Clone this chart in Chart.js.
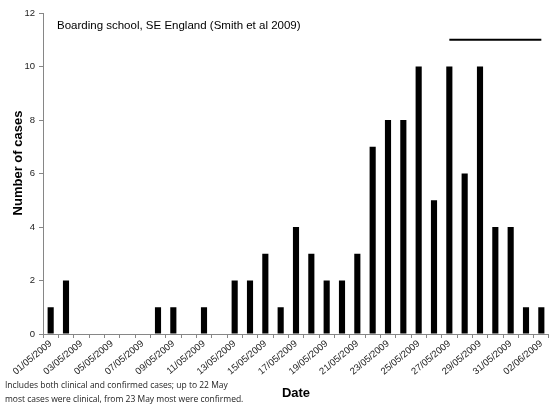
<!DOCTYPE html>
<html>
<head>
<meta charset="utf-8">
<script src="https://cdn.jsdelivr.net/npm/chart.js@4/dist/chart.umd.min.js"></script>
<style>
  html, body { margin: 0; padding: 0; background: #fff; }
  #wrap { width: 549px; height: 408px; position: relative; }
</style>
</head>
<body>
<div id="wrap"><canvas id="myChart"></canvas></div>
<script>
var dates = ['01/05/2009', '02/05/2009', '03/05/2009', '04/05/2009', '05/05/2009', '06/05/2009',
    '07/05/2009', '08/05/2009', '09/05/2009', '10/05/2009', '11/05/2009', '12/05/2009',
    '13/05/2009', '14/05/2009', '15/05/2009', '16/05/2009', '17/05/2009', '18/05/2009',
    '19/05/2009', '20/05/2009', '21/05/2009', '22/05/2009', '23/05/2009', '24/05/2009',
    '25/05/2009', '26/05/2009', '27/05/2009', '28/05/2009', '29/05/2009', '30/05/2009',
    '31/05/2009', '01/06/2009', '02/06/2009'];
var cases = [1, 2, 0, 0, 0, 0, 0, 1, 1, 0, 1, 0, 2, 2, 3, 1, 4, 3, 2, 2, 3, 7, 8, 8, 10, 5, 10, 6, 10, 4, 4, 1, 1];
// horizontal marker line at the top right
var marker = [null, null, null, null, null, null, null, null, null, null, null, null, null, null, null, null,
    null, null, null, null, null, null, null, null, null, null, 11, 11, 11, 11, 11, 11, 11];

var annotation = 'Boarding school, SE England (Smith et al 2009)';
var footnote = ['Includes both clinical and confirmed cases; up to 22 May',
    'most cases were clinical, from 23 May most were confirmed.'];
var yTitle = 'Number of cases';

var textPlugin = {
    id: 'texts',
    afterDraw: function (chart) {
        var ctx = chart.ctx;
        ctx.save();
        ctx.fillStyle = '#000';
        ctx.textBaseline = 'middle';
        ctx.textAlign = 'left';
        ctx.font = '11.5px Arial, "Liberation Sans"';
        ctx.fillText(annotation, 57, 26);
        ctx.font = '8.5px "Open Sans"';
        ctx.fillStyle = '#222';
        ctx.fillText(footnote[0], 5, 386);
        ctx.fillText(footnote[1], 5, 400);
        // y axis title
        ctx.fillStyle = '#000';
        ctx.font = 'bold 13px Arial';
        ctx.textAlign = 'center';
        ctx.translate(18, 163);
        ctx.rotate(-Math.PI / 2);
        ctx.fillText(yTitle, 0, 0);
        ctx.restore();
    }
};

var ctx = document.getElementById('myChart').getContext('2d');
var chart = new Chart(ctx, {
    type: 'bar',
    data: {
        labels: dates,
        datasets: [{
            label: 'Cases',
            data: cases,
            backgroundColor: '#000',
            borderWidth: 0,
            categoryPercentage: 1,
            barPercentage: 0.4,
            order: 2
        }, {
            type: 'line',
            label: 'marker',
            data: marker,
            borderColor: '#000',
            borderWidth: 2,
            pointRadius: 0,
            spanGaps: false,
            order: 1
        }]
    },
    options: {
        responsive: true,
        maintainAspectRatio: false,
        animation: false,
        layout: { padding: { top: 13, right: 0, left: 0, bottom: 0 } },
        plugins: {
            legend: { display: false },
            tooltip: { enabled: false }
        },
        scales: {
            x: {
                offset: true,
                grid: { display: true, drawOnChartArea: false, offset: true, color: '#868686', tickLength: 4 },
                border: { color: '#868686' },
                ticks: {
                    autoSkip: false,
                    minRotation: 40,
                    maxRotation: 40,
                    color: '#222',
                    padding: 0,
                    font: { family: 'Arial', size: 9.5 },
                    callback: function (v, i) { return i % 2 === 0 ? dates[i] : ''; }
                },
                title: {
                    display: true,
                    text: 'Date',
                    color: '#000',
                    font: { family: 'Arial', size: 13, weight: 'bold' },
                    padding: { top: 0, bottom: 7 }
                },
                afterFit: function (s) { s.height = 74; }
            },
            y: {
                min: 0,
                max: 12,
                grid: { display: true, drawOnChartArea: false, color: '#868686', tickLength: 4 },
                border: { color: '#868686' },
                ticks: {
                    stepSize: 2,
                    color: '#222',
                    padding: 4,
                    font: { family: 'Arial', size: 9.5 }
                },
                afterFit: function (s) { s.width = 43; }
            }
        }
    },
    plugins: [textPlugin]
});
</script>
</body>
</html>
